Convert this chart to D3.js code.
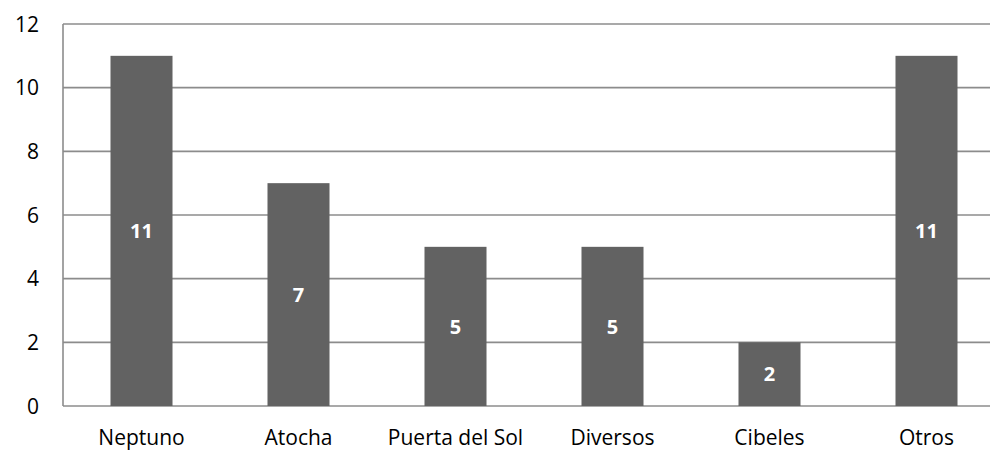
<!DOCTYPE html>
<html><head><meta charset="utf-8">
<script src="https://cdn.jsdelivr.net/npm/d3@7"></script>
<style>body{margin:0;background:#fff}svg{display:block}</style>
</head><body>
<svg id="c" width="990" height="452"></svg>
<script>
const categories = ["Neptuno","Atocha","Puerta del Sol","Diversos","Cibeles","Otros"];
const values = [11,7,5,5,2,11];
const yTicks = [0,2,4,6,8,10,12];

(function(){
const svg = d3.select("#c");
const mLeft = 63, mRight = 1005, mTop = 24, mBottom = 406;
const font = "'Open Sans', sans-serif";

const x = d3.scaleBand().domain(categories).range([mLeft,mRight]).paddingInner(0.605).paddingOuter(0.3025);
const y = d3.scaleLinear().domain([0,12]).range([mBottom,mTop]);

svg.append("g").selectAll("line").data(yTicks).join("line")
  .attr("x1",mLeft).attr("x2",990)
  .attr("y1",d=>y(d)).attr("y2",d=>y(d))
  .attr("stroke","#8c8c8c").attr("stroke-width",1.6);
svg.append("line").attr("x1",mLeft).attr("x2",mLeft).attr("y1",y(12)).attr("y2",y(0))
  .attr("stroke","#8c8c8c").attr("stroke-width",1.6);

svg.append("g").selectAll("text").data(yTicks).join("text")
  .attr("x",39).attr("y",d=>y(d)).attr("dy","0.36em")
  .attr("text-anchor","end").attr("font-family",font).attr("font-size",21).attr("fill","#000")
  .text(d=>d);

svg.append("g").selectAll("rect").data(values).join("rect")
  .attr("x",(d,i)=>x(categories[i])).attr("width",x.bandwidth())
  .attr("y",d=>y(d)).attr("height",d=>y(0)-y(d))
  .attr("fill","#626262");

svg.append("g").selectAll("text").data(values).join("text")
  .attr("x",(d,i)=>x(categories[i])+x.bandwidth()/2)
  .attr("y",d=>(y(d)+y(0))/2).attr("dy","0.36em")
  .attr("text-anchor","middle").attr("font-family",font).attr("font-weight","bold")
  .attr("font-size",20).attr("fill","#fff").text(d=>d);

svg.append("g").selectAll("text").data(categories).join("text")
  .attr("x",d=>x(d)+x.bandwidth()/2).attr("y",445)
  .attr("text-anchor","middle").attr("font-family",font).attr("font-size",21).attr("fill","#000")
  .text(d=>d);
})();
</script>
</body></html>
